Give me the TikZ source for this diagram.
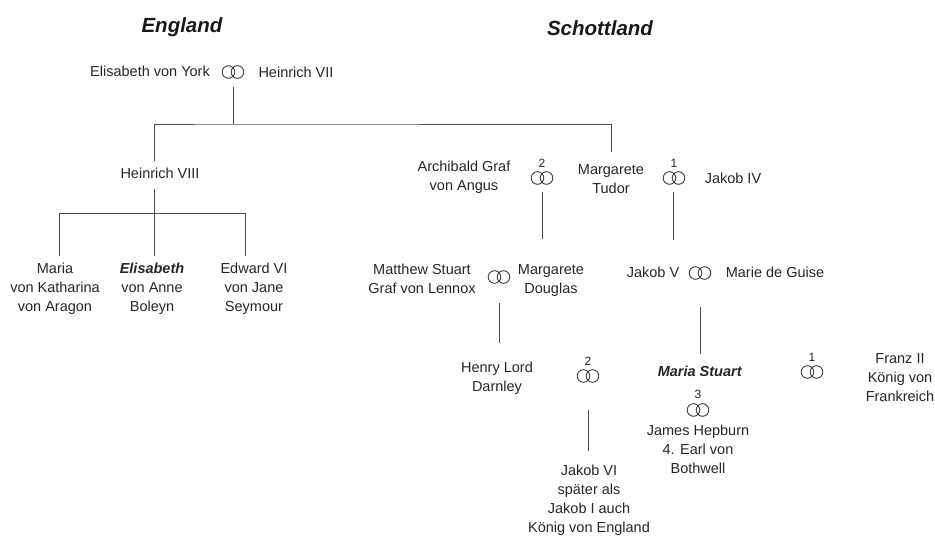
\documentclass[tikz,border=0pt]{standalone}
\usepackage{fontspec}
\setmainfont{Liberation Sans}
\tikzset{
  person/.style={align=center, inner sep=0pt, text=black!85, font=\fontsize{14.5}{19}\selectfont},
  title/.style={inner sep=0pt, text=black!90, font=\fontsize{20.5}{24}\selectfont\bfseries\itshape},
  rings/.style={minimum width=24pt, minimum height=15pt, inner sep=0pt,
    path picture={\draw[line width=0.9pt, black!75]
      ([xshift=-4.5pt]path picture bounding box.center) circle (6.3pt)
      ([xshift=4.5pt]path picture bounding box.center) circle (6.3pt);}},
  nr/.style={inner sep=0.5pt, text=black!85, font=\fontsize{12}{14}\selectfont},
  tree/.style={draw=black!70, line width=1pt}
}
\begin{document}
\begin{tikzpicture}[x=1pt,y=-1pt]
        \useasboundingbox (0,0) rectangle (935,536);
        \node[title] (england) at (182,27) {England};
        \node[title] (scotland) at (600,28) {Schottland};
        \node[person] (ely) at (150,71) {Elisabeth von York};
        \node[rings] (r0) at (233,72) {};
        \node[person] (h7) at (296,72) {Heinrich VII};
        \node[person] (h8) at (160,173) {Heinrich VIII};
        \node[person] (archibald) at (464,177.5) {Archibald Graf\\von Angus};
        \node[rings, label={[nr, label distance=2.5pt]above:2}] (r1) at (542,178) {};
        \node[person] (mtudor) at (611,179) {Margarete\\Tudor};
        \node[rings, label={[nr, label distance=2.5pt]above:1}] (r2) at (674,178) {};
        \node[person] (j4) at (733,178) {Jakob IV};
        \node[person] (maria) at (55,289) {Maria\\von Katharina\\von Aragon};
        \node[person] (eliz) at (152,289) {\textbf{\textit{Elisabeth}}\\von Anne\\Boleyn};
        \node[person] (edward) at (254,289) {Edward VI\\von Jane\\Seymour};
        \node[person] (matthew) at (422,278.5) {Matthew Stuart\\Graf von Lennox};
        \node[rings] (r3) at (499,277) {};
        \node[person] (mdouglas) at (551,281) {Margarete\\Douglas};
        \node[person] (j5) at (653,272) {Jakob V};
        \node[rings] (r4) at (700,273) {};
        \node[person] (mguise) at (775,272) {Marie de Guise};
        \node[person] (darnley) at (497,378.5) {Henry Lord\\Darnley};
        \node[rings, label={[nr, label distance=2.5pt]above:2}] (r5) at (588,376) {};
        \node[person] (mstuart) at (700,371) {\textbf{\textit{Maria Stuart}}};
        \node[rings, label={[nr, label distance=2.5pt]above:1}] (r6) at (812,372) {};
        \node[person] (franz) at (900,378) {Franz II\\König von\\Frankreich};
        \node[rings, label={[nr, label distance=2.5pt]above:3}] (r7) at (698,410) {};
        \node[person] (hepburn) at (698,449) {James Hepburn\\4. Earl von\\Bothwell};
        \node[person] (jakob6) at (589,500) {Jakob VI\\später als\\Jakob I auch\\König von England};
        \coordinate (fork) at (233,124);
        \coordinate (kids) at (154,213);
        \coordinate (barL) at (59,213);
        \coordinate (barR) at (245,213);
        \draw[tree, shorten <=7pt] (r0.south) -- (fork);
        \draw[tree, shorten <=6pt, shorten >=12.5pt] (kids |- h8.north) |- (fork) -| (mtudor.north);
        \draw[tree, shorten <=10pt] (kids |- h8.south) -- (kids);
        \draw[tree, shorten >=7pt] (kids) -- (kids |- eliz.north);
        \draw[tree, shorten <=7pt, shorten >=7pt] (barL |- maria.north) |- (barR) -- (barR |- edward.north);
        \draw[tree, shorten <=6pt, shorten >=25.5pt] (r1.south) -- (r1.south |- mdouglas.north);
        \draw[tree, shorten <=6pt, shorten >=26pt] ([xshift=-1pt]r2.south) -- ([xshift=-1pt]r2.south |- j5.north);
        \draw[tree, shorten <=18pt, shorten >=19pt] (r3.south) -- (r3.south |- darnley.north);
        \draw[tree, shorten <=26pt, shorten >=11pt] (r4.south) -- (r4.south |- mstuart.north);
        \draw[tree, shorten <=26pt, shorten >=14pt] (r5.south) -- (r5.south |- jakob6.north);
\end{tikzpicture}
\end{document}
